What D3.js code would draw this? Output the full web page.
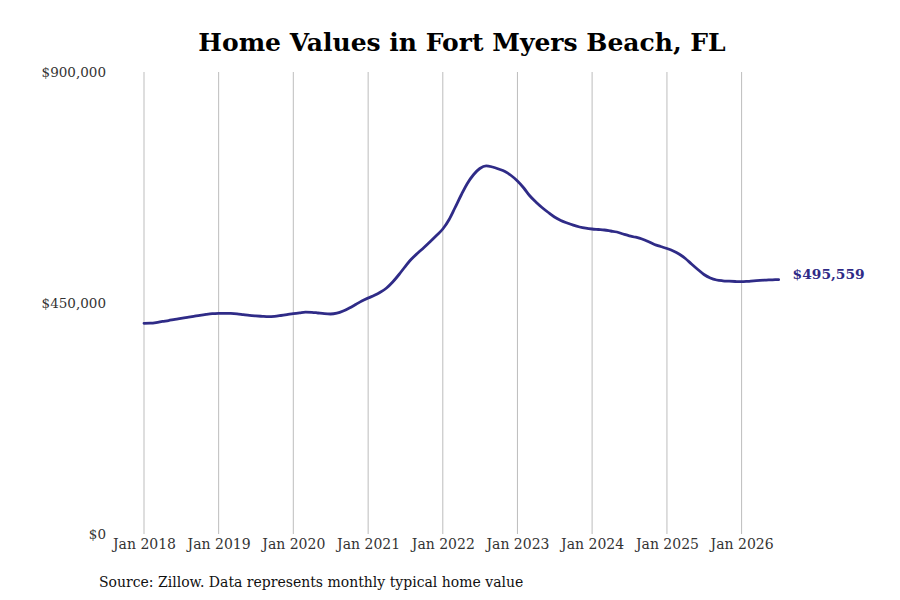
<!DOCTYPE html>
<html>
<head>
<meta charset="utf-8">
<script src="https://cdn.jsdelivr.net/npm/d3@7/dist/d3.min.js"></script>
<style>
  html, body { margin: 0; padding: 0; background: #fff; }
  svg { display: block; }
  text { font-family: "DejaVu Serif", serif; }
</style>
</head>
<body>
<svg id="chart" width="900" height="600"></svg>
<script>
// ---- Data ----
const startYear = 2018;
const startMonth = 0; // January
const values = [
  410400, 410650, 411800, 414000, 415900, 418250, 420200, 422150, 424100, 426050, 427800, 429150,
  429750, 429950, 429750, 428950, 427400, 425850, 424880, 424100, 423500, 424100, 425650, 427400,
  429350, 430900, 432100, 431900, 430500, 429150, 428570, 430130, 434420, 440260, 447080, 453900,
  459740, 465000, 470840, 479220, 490910, 505520, 521100, 535710, 547400, 558120, 569810, 581500,
  594160, 612670, 635070, 660390, 682800, 700330, 712020, 717270, 714930, 711030, 706170, 698380,
  687660, 674030, 659420, 646750, 636040, 626300, 617530, 610710, 605840, 601560, 598050, 595710,
  594160, 593180, 592210, 590260, 588310, 584420, 580910, 578180, 574680, 569810, 563960, 560070,
  556170, 551300, 545450, 536690, 525970, 515260, 505520, 498700, 494810, 493250, 492470, 491880,
  491490, 492280, 493250, 494030, 494610, 495200, 495559
];
const yTicks = [0, 450000, 900000];
const xTickYears = [2018, 2019, 2020, 2021, 2022, 2023, 2024, 2025, 2026];
const title = "Home Values in Fort Myers Beach, FL";
const source = "Source: Zillow. Data represents monthly typical home value";

const data = values.map((v, i) => ({ date: new Date(startYear, startMonth + i, 1), value: v }));

// ---- Layout ----
const svg = d3.select("#chart");
const plotTop = 72, plotBottom = 534;
const x = d3.scaleTime()
  .domain([new Date(2018, 0, 1), new Date(2026, 0, 1)])
  .range([144, 741.6]);
const y = d3.scaleLinear().domain([0, 900000]).range([plotBottom, plotTop]);

const lineColor = "#2f2b87";

// Title
svg.append("text")
  .attr("x", 462).attr("y", 51)
  .attr("text-anchor", "middle")
  .attr("font-size", 25).attr("font-weight", "bold")
  .attr("fill", "#000")
  .text(title);

// Vertical grid lines
const xTickDates = xTickYears.map(yr => new Date(yr, 0, 1));
svg.append("g").selectAll("line")
  .data(xTickDates).join("line")
  .attr("x1", d => x(d)).attr("x2", d => x(d))
  .attr("y1", plotTop).attr("y2", plotBottom)
  .attr("stroke", "#bdbdbd").attr("stroke-width", 1);

// X axis labels
const xAxis = d3.axisBottom(x).tickValues(xTickDates)
  .tickFormat(d3.timeFormat("Jan %Y")).tickSize(0).tickPadding(10);
const gx = svg.append("g").attr("transform", `translate(0,${plotBottom - 5})`).call(xAxis);
gx.select(".domain").remove();
gx.selectAll("text").attr("font-family", "DejaVu Serif").attr("font-size", 14).attr("fill", "#333");

// Y axis labels
const yAxis = d3.axisLeft(y).tickValues(yTicks)
  .tickFormat(d => "$" + d3.format(",")(d)).tickSize(0).tickPadding(0);
const gy = svg.append("g").attr("transform", `translate(106,0)`).call(yAxis);
gy.select(".domain").remove();
gy.selectAll("text").attr("font-family", "DejaVu Serif").attr("font-size", 13.5).attr("fill", "#333");

// Line
const line = d3.line()
  .x(d => x(d.date)).y(d => y(d.value))
  .curve(d3.curveMonotoneX);
svg.append("path")
  .datum(data)
  .attr("d", line)
  .attr("fill", "none")
  .attr("stroke", lineColor)
  .attr("stroke-width", 2.8)
  .attr("stroke-linejoin", "round")
  .attr("stroke-linecap", "round");

// End label
const last = data[data.length - 1];
svg.append("text")
  .attr("x", x(last.date) + 14).attr("y", y(last.value))
  .attr("dy", "-0.05em")
  .attr("font-size", 13.8).attr("font-weight", "bold")
  .attr("fill", lineColor)
  .text("$" + d3.format(",")(last.value));

// Source
svg.append("text")
  .attr("x", 99).attr("y", 587)
  .attr("font-size", 14).attr("fill", "#111")
  .text(source);
</script>
</body>
</html>
